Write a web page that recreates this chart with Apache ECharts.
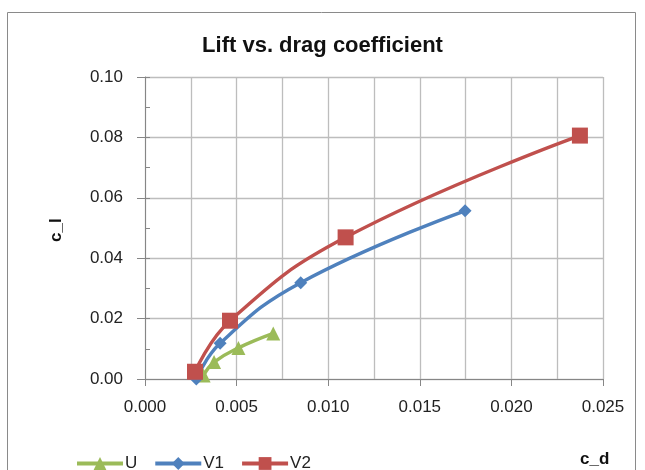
<!DOCTYPE html>
<html>
<head>
<meta charset="utf-8">
<script src="https://cdn.jsdelivr.net/npm/echarts@6/dist/echarts.min.js"></script>
<style>
html,body{margin:0;padding:0;background:#fff;}
#chart{width:645px;height:470px;}
</style>
</head>
<body>
<div id="chart"></div>
<script>
// Data: [c_d, c_l]
const seriesNames = ['U', 'V1', 'V2'];
const dataU  = [[0.0032, 0.0012], [0.00377, 0.0056], [0.0051, 0.0103], [0.0070, 0.0151]];
const dataV1 = [[0.0028, 0.0000], [0.0041, 0.0118], [0.0085, 0.0319], [0.01747, 0.0557]];
const dataV2 = [[0.00273, 0.0024], [0.00464, 0.0193], [0.01095, 0.0469], [0.02374, 0.0806]];
const xTicks = [0, 0.005, 0.010, 0.015, 0.020, 0.025];
const yTicks = [0, 0.02, 0.04, 0.06, 0.08, 0.10];

const FONT = 'Liberation Sans';
const chart = echarts.init(document.getElementById('chart'), null, {renderer: 'canvas'});

function mkSeries(name, data, color, symbol, size) {
  return {
    name: name, type: 'line', data: data, smooth: 0.45,
    symbol: symbol, symbolSize: size, showSymbol: true,
    lineStyle: {color: color, width: 3.4},
    itemStyle: {color: color},
    emphasis: {disabled: true},
    z: 3
  };
}

chart.setOption({
  animation: false,
  backgroundColor: '#fff',
  title: {
    text: 'Lift vs. drag coefficient',
    left: 'center', top: 30,
    textStyle: {fontFamily: FONT, fontWeight: 'bold', fontSize: 22, color: '#111'}
  },
  grid: {left: 145, right: 42, top: 77, bottom: 91, containLabel: false},
  legend: {
    data: seriesNames,
    left: 70, top: 450,
    itemWidth: 46, itemHeight: 16, itemGap: 16,
    lineStyle: {width: 4},
    textStyle: {fontFamily: FONT, fontSize: 17, color: '#222', padding: [0, 0, 0, -3]}
  },
  xAxis: {
    type: 'value', min: xTicks[0], max: xTicks[xTicks.length - 1], interval: 0.005,
    axisLine: {show: true, onZero: false, lineStyle: {color: '#868686', width: 1}},
    axisTick: {show: true, length: 7, lineStyle: {color: '#868686'}},
    axisLabel: {margin: 20, fontFamily: FONT, fontSize: 17, color: '#222',
      formatter: v => v.toFixed(3)},
    splitLine: {show: true, lineStyle: {color: '#bdbdbd', width: 1.3}},
    minorTick: {show: false, splitNumber: 2},
    minorSplitLine: {show: true, lineStyle: {color: '#bdbdbd', width: 1.3}}
  },
  yAxis: [{
    type: 'value', min: yTicks[0], max: yTicks[yTicks.length - 1], interval: 0.02,
    axisLine: {show: true, lineStyle: {color: '#868686', width: 1}},
    axisTick: {show: true, length: 8, lineStyle: {color: '#868686'}},
    axisLabel: {margin: 22, fontFamily: FONT, fontSize: 17, color: '#222',
      formatter: v => v.toFixed(2)},
    splitLine: {show: true, lineStyle: {color: '#bdbdbd', width: 1.3}}
  }, {
    type: 'value', min: 0, max: 0.10, interval: 0.01, position: 'left',
    axisLine: {show: false},
    axisTick: {show: true, inside: true, length: 5, lineStyle: {color: '#868686'}},
    axisLabel: {show: false},
    splitLine: {show: false}
  }],
  graphic: [
    {type: 'rect', shape: {x: 7.5, y: 12.5, width: 628, height: 520},
      style: {fill: 'none', stroke: '#8a8a8a', lineWidth: 1}, z: -10, silent: true},
    {type: 'text', left: 580, top: 451,
      style: {text: 'c_d', font: 'bold 17px "Liberation Sans"', fill: '#111'}},
    {type: 'text', x: 48, y: 242, rotation: Math.PI / 2,
      style: {text: 'c_l', font: 'bold 17px "Liberation Sans"', fill: '#111'}}
  ],
  series: [
    mkSeries('U', dataU, '#9BBB59', 'triangle', 14),
    mkSeries('V1', dataV1, '#4F81BD', 'diamond', 13),
    mkSeries('V2', dataV2, '#C0504D', 'rect', 16)
  ]
});
</script>
</body>
</html>
